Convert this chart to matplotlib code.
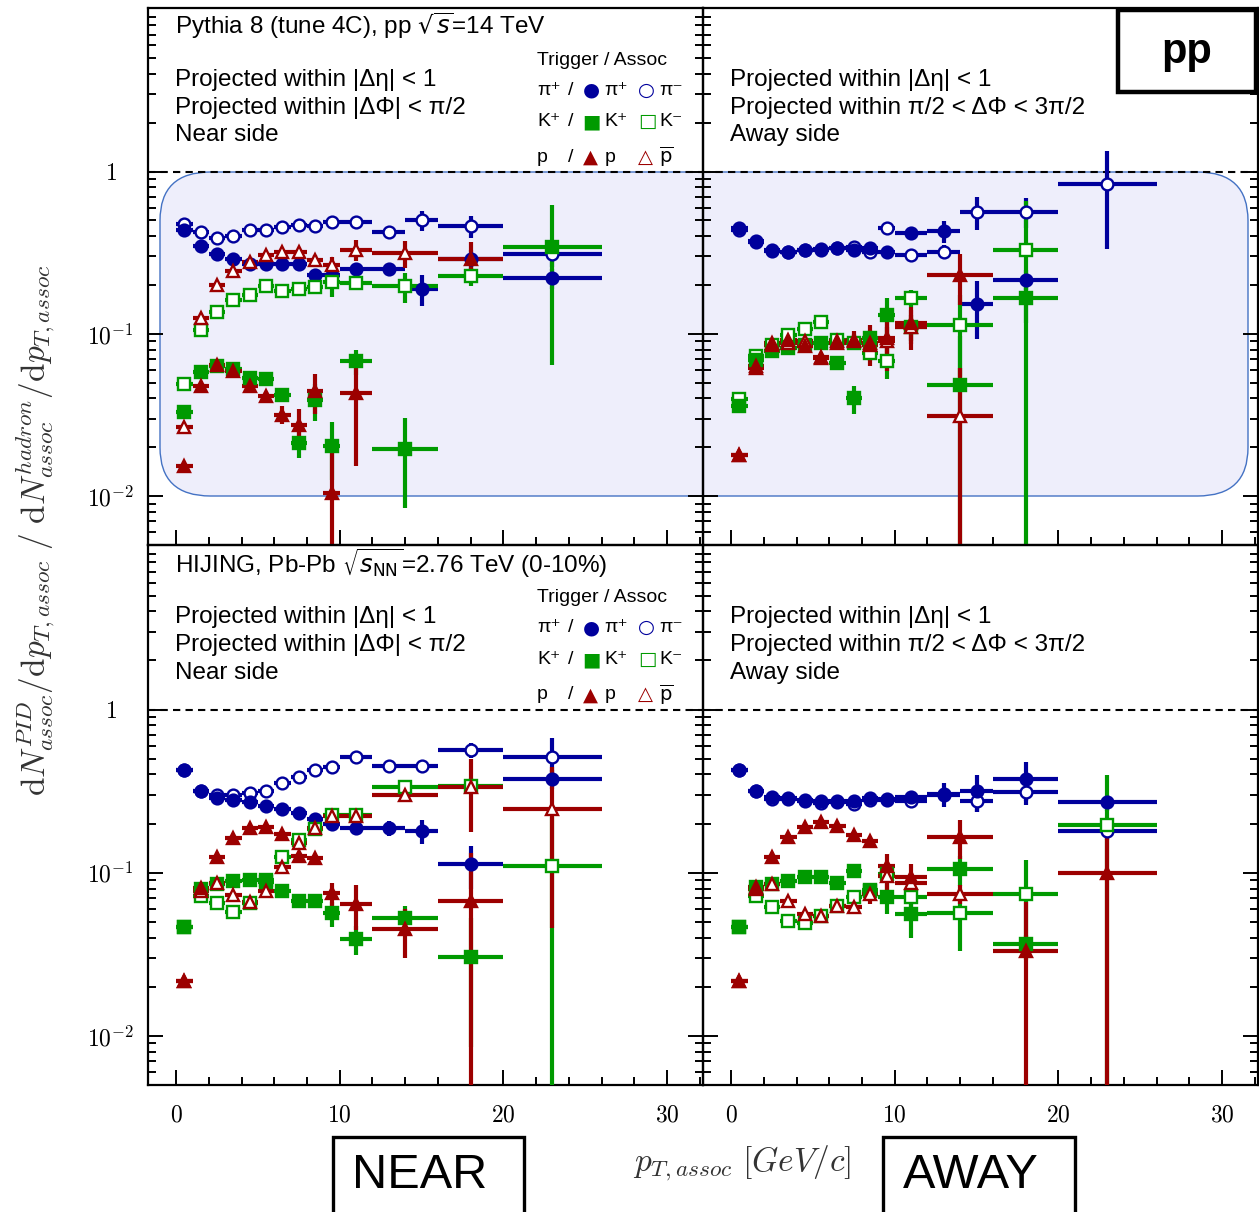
import matplotlib
matplotlib.use("Agg")
import matplotlib.pyplot as plt
import numpy as np
from matplotlib.patches import Rectangle, FancyBboxPatch
from matplotlib.ticker import LogLocator, MultipleLocator, NullFormatter, FixedLocator

plt.rcParams['font.family'] = ['Liberation Sans', 'DejaVu Sans']
plt.rcParams['mathtext.fontset'] = 'cm'

nan = np.nan

# bin centres and half widths (GeV/c)
pt_pi = [0.5, 1.5, 2.5, 3.5, 4.5, 5.5, 6.5, 7.5, 8.5, 9.5, 11, 13, 15, 18, 23]
pt_pi_hw = [0.5] * 10 + [1, 1, 1, 2, 3]
pt_kp = [0.5, 1.5, 2.5, 3.5, 4.5, 5.5, 6.5, 7.5, 8.5, 9.5, 11, 14, 18, 23]
pt_kp_hw = [0.5] * 10 + [1, 2, 2, 3]

# ---- pp, near side
pp_near_pip = [0.44, 0.35, 0.31, 0.29, 0.27, 0.27, 0.27, 0.27, 0.23, 0.23, 0.25, 0.25, 0.19, 0.29, 0.22]
pp_near_pip_e = [0, 0, 0, 0, 0, 0, 0, 0, 0.005, 0.01, 0.01, 0.02, 0.042, 0.04, 0.03]
pp_near_pim = [0.477, 0.427, 0.39, 0.40, 0.437, 0.44, 0.455, 0.47, 0.46, 0.49, 0.486, 0.427, 0.50, 0.46, 0.31]
pp_near_pim_e = [0, 0, 0, 0, 0, 0, 0, 0, 0, 0.01, 0.02, 0.02, 0.07, 0.07, 0.05]
pp_near_kp = [0.033, 0.058, 0.063, 0.061, 0.0535, 0.053, 0.042, 0.0213, 0.039, 0.0205, 0.0677, 0.0194, nan, 0.344]
pp_near_kp_e = [0, 0, 0, 0, 0, 0, 0.003, 0.004, 0.01, 0.008, 0.012, 0.011, nan, 0.28]
pp_near_km = [0.049, 0.106, 0.136, 0.162, 0.174, 0.196, 0.185, 0.189, 0.194, 0.21, 0.206, 0.196, 0.226, nan]
pp_near_km_e = [0, 0, 0, 0, 0, 0, 0, 0, 0.005, 0.04, 0.02, 0.04, 0.03, nan]
pp_near_pr = [0.0153, 0.0475, 0.0646, 0.0588, 0.0475, 0.0417, 0.0318, 0.0276, 0.0443, 0.0105, 0.0433, nan, 0.29, nan]
pp_near_pr_e = [0, 0, 0, 0, 0, 0.002, 0.004, 0.007, 0.012, 0.011, 0.028, nan, 0.08, nan]
pp_near_pb = [0.0265, 0.126, 0.201, 0.245, 0.278, 0.307, 0.32, 0.32, 0.286, 0.267, 0.33, 0.316, nan, nan]
pp_near_pb_e = [0, 0, 0, 0, 0, 0, 0, 0, 0.02, 0.03, 0.05, 0.06, nan, nan]

# ---- pp, away side
pp_away_pip = [0.449, 0.376, 0.33, 0.322, 0.33, 0.333, 0.338, 0.33, 0.338, 0.322, 0.418, 0.428, 0.153, 0.216, nan]
pp_away_pip_e = [0, 0, 0, 0, 0, 0, 0, 0, 0, 0.01, 0.02, 0.065, 0.06, 0.03, nan]
pp_away_pim = [0.44, 0.37, 0.325, 0.32, 0.33, 0.33, 0.34, 0.345, 0.32, 0.45, 0.307, 0.322, 0.567, 0.567, 0.836]
pp_away_pim_e = [0, 0, 0, 0, 0, 0, 0, 0, 0, 0.01, 0.01, 0.03, 0.13, 0.12, 0.5]
pp_away_kp = [0.0358, 0.069, 0.078, 0.082, 0.085, 0.088, 0.066, 0.040, 0.095, 0.131, 0.11, 0.0487, 0.166, nan]
pp_away_kp_e = [0, 0, 0, 0, 0, 0, 0.004, 0.008, 0.01, 0.035, 0.02, 0.0487, 0.05, nan]
pp_away_km = [0.0398, 0.0727, 0.085, 0.099, 0.107, 0.119, 0.092, 0.088, 0.0763, 0.0677, 0.167, 0.114, 0.33, nan]
pp_away_km_e = [0, 0, 0, 0, 0, 0, 0, 0, 0.008, 0.015, 0.02, 0.06, 0.33, nan]
pp_away_pr = [0.018, 0.063, 0.088, 0.092, 0.0838, 0.071, 0.09, 0.092, 0.088, 0.094, 0.117, 0.231, nan, nan]
pp_away_pr_e = [0, 0, 0, 0, 0, 0, 0.005, 0.012, 0.025, 0.035, 0.03, 0.08, nan, nan]
pp_away_pb = [0.018, 0.062, 0.085, 0.088, 0.09, 0.072, 0.088, 0.09, 0.085, 0.09, 0.11, 0.031, nan, nan]
pp_away_pb_e = [0, 0, 0, 0, 0, 0, 0, 0.01, 0.015, 0.02, 0.03, 0.031, nan, nan]

# ---- Pb-Pb, near side
pb_near_pip = [0.427, 0.319, 0.287, 0.279, 0.27, 0.258, 0.246, 0.231, 0.213, 0.199, 0.188, 0.188, 0.181, 0.113, 0.376]
pb_near_pip_e = [0, 0, 0, 0, 0, 0, 0, 0, 0, 0.005, 0.01, 0.02, 0.03, 0.033, 0.05]
pb_near_pim = [0.427, 0.319, 0.301, 0.30, 0.307, 0.315, 0.353, 0.388, 0.427, 0.447, 0.515, 0.453, 0.453, 0.566, 0.515]
pb_near_pim_e = [0, 0, 0, 0, 0, 0, 0, 0, 0, 0.01, 0.02, 0.03, 0.04, 0.06, 0.15]
pb_near_kp = [0.0462, 0.0794, 0.085, 0.0893, 0.09, 0.09, 0.0768, 0.0667, 0.0667, 0.0563, 0.0392, 0.0527, 0.0305, nan]
pb_near_kp_e = [0, 0, 0, 0, 0, 0, 0, 0.003, 0.005, 0.01, 0.008, 0.01, 0.022, nan]
pb_near_km = [0.0462, 0.0722, 0.0648, 0.0571, 0.0648, 0.088, 0.124, 0.158, 0.185, 0.227, 0.227, 0.334, 0.342, 0.11]
pb_near_km_e = [0, 0, 0, 0, 0, 0, 0.005, 0.005, 0.005, 0.01, 0.01, 0.03, 0.04, 0.109]
pb_near_pr = [0.0217, 0.081, 0.125, 0.163, 0.188, 0.19, 0.173, 0.127, 0.123, 0.0746, 0.0643, 0.0451, 0.0674, nan]
pb_near_pr_e = [0, 0, 0, 0, 0, 0, 0, 0, 0, 0.012, 0.02, 0.015, 0.065, nan]
pb_near_pb = [0.0217, 0.077, 0.087, 0.0733, 0.0658, 0.0768, 0.108, 0.153, 0.188, 0.224, 0.224, 0.301, 0.337, 0.246]
pb_near_pb_e = [0, 0, 0, 0, 0, 0, 0.005, 0.005, 0.01, 0.015, 0.015, 0.03, 0.16, 0.2]

# ---- Pb-Pb, away side
pb_away_pip = [0.427, 0.319, 0.29, 0.288, 0.279, 0.274, 0.274, 0.276, 0.288, 0.283, 0.293, 0.304, 0.315, 0.376, 0.27]
pb_away_pip_e = [0, 0, 0, 0, 0, 0, 0, 0, 0, 0.01, 0.01, 0.05, 0.08, 0.1, 0.03]
pb_away_pim = [0.427, 0.319, 0.285, 0.282, 0.275, 0.267, 0.27, 0.264, 0.28, 0.28, 0.277, 0.30, 0.274, 0.311, 0.179]
pb_away_pim_e = [0, 0, 0, 0, 0, 0, 0, 0, 0, 0.01, 0.01, 0.02, 0.04, 0.05, 0.02]
pb_away_kp = [0.0462, 0.0813, 0.085, 0.0893, 0.0936, 0.0936, 0.086, 0.103, 0.078, 0.0706, 0.0558, 0.105, 0.0368, nan]
pb_away_kp_e = [0, 0, 0, 0, 0, 0, 0, 0.004, 0.005, 0.015, 0.016, 0.022, 0.005, nan]
pb_away_km = [0.0462, 0.0722, 0.0613, 0.0508, 0.0489, 0.0545, 0.0628, 0.0706, 0.0776, 0.098, 0.0706, 0.0563, 0.074, 0.197]
pb_away_km_e = [0, 0, 0, 0, 0, 0, 0, 0, 0.005, 0.008, 0.01, 0.023, 0.045, 0.2]
pb_away_pr = [0.0217, 0.082, 0.124, 0.165, 0.191, 0.206, 0.194, 0.171, 0.156, 0.11, 0.0936, 0.166, 0.0332, 0.099]
pb_away_pr_e = [0, 0, 0, 0, 0, 0, 0, 0, 0.01, 0.02, 0.02, 0.045, 0.0332, 0.099]
pb_away_pb = [0.0217, 0.08, 0.085, 0.0673, 0.0558, 0.0545, 0.0628, 0.0613, 0.074, 0.095, 0.086, 0.074, nan, nan]
pb_away_pb_e = [0, 0, 0, 0, 0, 0, 0, 0, 0.01, 0.02, 0.01, 0.01, nan, nan]

BLUE = '#00009c'
GREEN = '#009a00'
RED = '#9c0000'

top_titles = ["Pythia 8 (tune 4C), pp $\\sqrt{s}$=14 TeV",
              "HIJING, Pb-Pb $\\sqrt{s_{\\rm NN}}$=2.76 TeV (0-10%)"]
near_text = ["Projected within |Δη| < 1", "Projected within |ΔΦ| < π/2", "Near side"]
away_text = ["Projected within |Δη| < 1", "Projected within π/2 < ΔΦ < 3π/2", "Away side"]
legend_rows = [("π⁺", "●", "π⁺", "○", "π⁻", BLUE),
               ("K⁺", "■", "K⁺", "□", "K⁻", GREEN),
               ("p", "▲", "p", "△", "$\\overline{\\rm p}$", RED)]


def draw_series(ax, x, xw, y, ye, color, marker, filled, ms):
    y = np.array(y, float)
    ye = np.array(ye, float)
    lo = np.minimum(ye, y * 0.999)
    ax.errorbar(x, y, xerr=xw, yerr=[lo, ye], fmt=marker, color=color, ecolor=color,
                mfc=color if filled else 'white', mec=color, ms=ms, mew=1.7,
                elinewidth=3, capsize=0, zorder=3)


def draw_panel(ax, pip, pip_e, pim, pim_e, kp, kp_e, km, km_e, pr, pr_e, pb, pb_e):
    draw_series(ax, pt_pi, pt_pi_hw, pim, pim_e, BLUE, 'o', False, 8.5)
    draw_series(ax, pt_pi, pt_pi_hw, pip, pip_e, BLUE, 'o', True, 8.5)
    draw_series(ax, pt_kp, pt_kp_hw, km, km_e, GREEN, 's', False, 8)
    draw_series(ax, pt_kp, pt_kp_hw, kp, kp_e, GREEN, 's', True, 8)
    draw_series(ax, pt_kp, pt_kp_hw, pb, pb_e, RED, '^', False, 8.5)
    draw_series(ax, pt_kp, pt_kp_hw, pr, pr_e, RED, '^', True, 8.5)
    ax.axhline(1, color='black', ls=(0, (3.5, 2.5)), lw=1.5, zorder=2)


def draw_legend(ax):
    fs = 14
    ax.text(0.701, 0.903, "Trigger / Assoc", transform=ax.transAxes, fontsize=fs, va='center')
    ys = [0.847, 0.788, 0.7225]
    for (a, m1, b, m2, c, col), yy in zip(legend_rows, ys):
        ax.text(0.701, yy, a, transform=ax.transAxes, fontsize=fs, va='center')
        ax.text(0.757, yy, "/", transform=ax.transAxes, fontsize=fs, va='center')
        ax.text(0.783, yy, m1, transform=ax.transAxes, fontsize=fs, va='center', color=col,
                family=['DejaVu Sans'])
        ax.text(0.822, yy, b, transform=ax.transAxes, fontsize=fs, va='center')
        ax.text(0.883, yy, m2, transform=ax.transAxes, fontsize=fs, va='center', color=col,
                family=['DejaVu Sans'])
        ax.text(0.921, yy, c, transform=ax.transAxes, fontsize=fs, va='center',
                math_fontfamily='dejavusans')


fig = plt.figure(figsize=(12.59, 12.12), dpi=100)
W, H = 1259.0, 1212.0
pos = {
    'tl': [148 / W, 1 - 545 / H, 555 / W, 537 / H],
    'tr': [703 / W, 1 - 545 / H, 555 / W, 537 / H],
    'bl': [148 / W, 1 - 1085 / H, 555 / W, 540 / H],
    'br': [703 / W, 1 - 1085 / H, 555 / W, 540 / H],
}
axes = {k: fig.add_axes(v) for k, v in pos.items()}

draw_panel(axes['tl'], pp_near_pip, pp_near_pip_e, pp_near_pim, pp_near_pim_e, pp_near_kp, pp_near_kp_e,
           pp_near_km, pp_near_km_e, pp_near_pr, pp_near_pr_e, pp_near_pb, pp_near_pb_e)
draw_panel(axes['tr'], pp_away_pip, pp_away_pip_e, pp_away_pim, pp_away_pim_e, pp_away_kp, pp_away_kp_e,
           pp_away_km, pp_away_km_e, pp_away_pr, pp_away_pr_e, pp_away_pb, pp_away_pb_e)
draw_panel(axes['bl'], pb_near_pip, pb_near_pip_e, pb_near_pim, pb_near_pim_e, pb_near_kp, pb_near_kp_e,
           pb_near_km, pb_near_km_e, pb_near_pr, pb_near_pr_e, pb_near_pb, pb_near_pb_e)
draw_panel(axes['br'], pb_away_pip, pb_away_pip_e, pb_away_pim, pb_away_pim_e, pb_away_kp, pb_away_kp_e,
           pb_away_km, pb_away_km_e, pb_away_pr, pb_away_pr_e, pb_away_pb, pb_away_pb_e)

for key, ax in axes.items():
    ax.set_facecolor('none')
    ax.set_yscale('log')
    ax.set_xlim(-1.72, 32.2)
    ax.set_ylim(0.005, 10.2)
    for s in ax.spines.values():
        s.set_linewidth(1.6)
    ax.xaxis.set_major_locator(FixedLocator([0, 10, 20, 30]))
    ax.xaxis.set_minor_locator(MultipleLocator(2))
    ax.yaxis.set_major_locator(FixedLocator([0.01, 0.1, 1]))
    ax.yaxis.set_minor_locator(LogLocator(base=10, subs=np.arange(2, 10)))
    ax.yaxis.set_minor_formatter(NullFormatter())
    ax.tick_params(which='both', direction='in', left=True, right=True, top=False, bottom=True,
                   width=1.4)
    ax.tick_params(which='major', length=11)
    ax.tick_params(which='minor', length=6)
    if key in ('tl', 'bl'):
        ax.set_yticklabels(['$10^{-2}$', '$10^{-1}$', '$1$'], ha='center', fontsize=17)
        ax.tick_params(axis='y', pad=27)
    else:
        ax.set_yticklabels([])
    if key in ('bl', 'br'):
        ax.set_xticklabels(['$0$', '$10$', '$20$', '$30$'], fontsize=17)
        ax.tick_params(axis='x', pad=14)
    else:
        ax.set_xticklabels([])

# panel texts
for key, title in (('tl', top_titles[0]), ('bl', top_titles[1])):
    ax = axes[key]
    ax.text(0.0486, 0.966, title, transform=ax.transAxes, fontsize=17.5, va='center',
            math_fontfamily='dejavusans')
for key in axes:
    lines = near_text if key in ('tl', 'bl') else away_text
    ax = axes[key]
    for t, yy in zip(lines, [0.866, 0.814, 0.7635]):
        ax.text(0.0486, yy, t, transform=ax.transAxes, fontsize=17.5, va='center')
draw_legend(axes['tl'])
draw_legend(axes['bl'])

# highlighted region over the pp panels
fig.add_artist(FancyBboxPatch((160 / W, 1 - 496 / H), 1088 / W, 324 / H,
                              boxstyle="round,pad=0,rounding_size=0.04",
                              transform=fig.transFigure, facecolor='#eeeefb',
                              edgecolor='#4472c4', linewidth=1.0, zorder=-1))

# axis titles
fig.text(0.028, 1 - 530 / H,
         "$\\mathrm{d}N^{PID}_{assoc}/\\mathrm{d}p_{T,assoc}\\ /\\ \\mathrm{d}N^{hadron}_{assoc}/\\mathrm{d}p_{T,assoc}$",
         rotation=90, ha='center', va='center', fontsize=24, color='#333333')
fig.text(742 / W, 1 - 1163 / H, "$p_{T,assoc}\\ [GeV/c]$", ha='center', va='center',
         fontsize=24, color='#333333')

# labels boxes
fig.add_artist(Rectangle((333 / W, -0.01), 191 / W, 0.01 + 1 - 1137 / H, transform=fig.transFigure,
                         facecolor='white', edgecolor='black', linewidth=2.4, zorder=5))
fig.text(420 / W, 1 - 1176 / H, "NEAR", ha='center', va='center', fontsize=35, zorder=6)
fig.add_artist(Rectangle((883 / W, -0.01), 192 / W, 0.01 + 1 - 1137 / H, transform=fig.transFigure,
                         facecolor='white', edgecolor='black', linewidth=2.4, zorder=5))
fig.text(971 / W, 1 - 1176 / H, "AWAY", ha='center', va='center', fontsize=35, zorder=6)
fig.add_artist(Rectangle((1118 / W, 1 - 92 / H), 138 / W, 82 / H, transform=fig.transFigure,
                         facecolor='white', edgecolor='black', linewidth=3.2, zorder=5))
fig.text(1187 / W, 1 - 52 / H, "pp", ha='center', va='center', fontsize=30, fontweight='bold', zorder=6)

fig.savefig("out.png", dpi=100)
